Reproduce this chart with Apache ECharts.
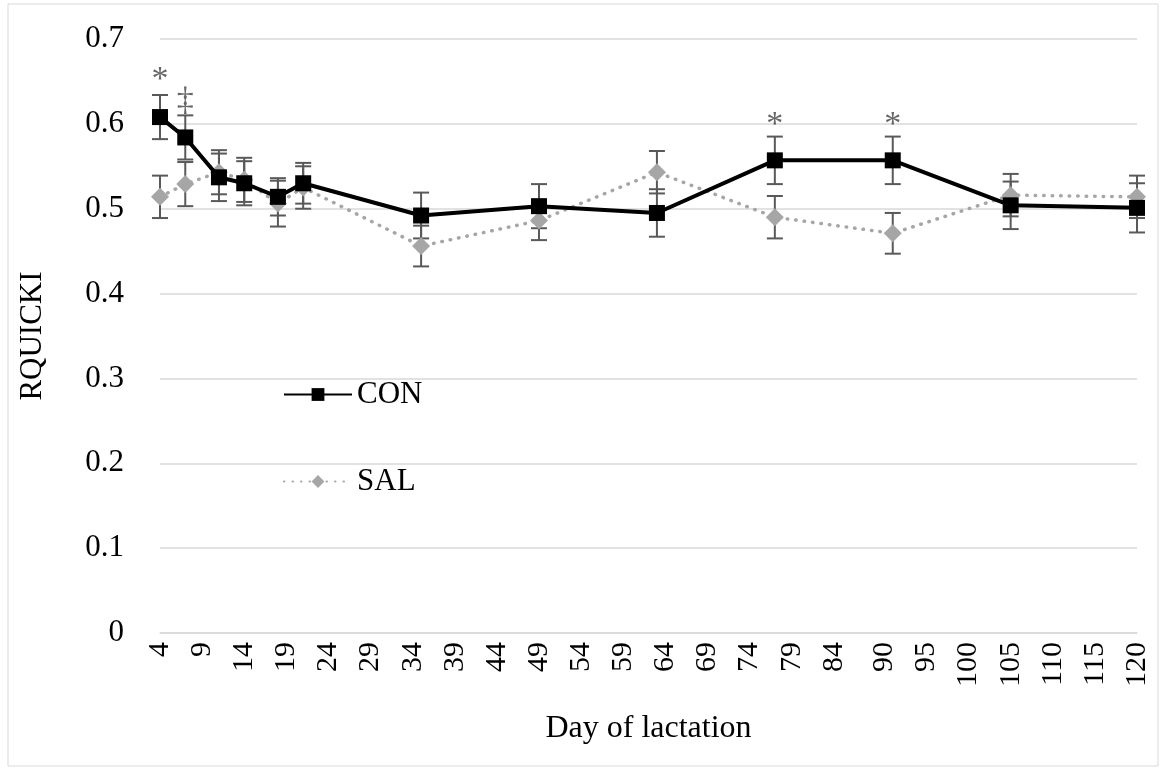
<!DOCTYPE html>
<html>
<head>
<meta charset="utf-8">
<script src="https://cdn.jsdelivr.net/npm/echarts@6/dist/echarts.min.js"></script>
<style>
  html, body { margin: 0; padding: 0; background: #fff; }
  #chart { width: 1161px; height: 773px; }
</style>
</head>
<body>
<div id="chart"></div>
<script>
// day of lactation for each sample
const days = [4, 7, 11, 14, 18, 21, 35, 49, 63, 77, 91, 105, 120]
const conValues = [0.608, 0.584, 0.537, 0.530, 0.514, 0.530, 0.492, 0.503, 0.495, 0.557, 0.557, 0.504, 0.501]
const conErr = [0.026, 0.026, 0.028, 0.026, 0.022, 0.024, 0.027, 0.026, 0.028, 0.028, 0.028, 0.028, 0.029]
const salValues = [0.514, 0.529, 0.543, 0.534, 0.506, 0.525, 0.456, 0.486, 0.543, 0.490, 0.471, 0.516, 0.514]
const salErr = [0.025, 0.026, 0.026, 0.026, 0.027, 0.025, 0.024, 0.023, 0.025, 0.025, 0.024, 0.025, 0.025]
const xTickLabels = [4, 9, 14, 19, 24, 29, 34, 39, 44, 49, 54, 59, 64, 69, 74, 79, 84, 90, 95, 100, 105, 110, 115, 120]
// significance marks: [day, y, text]
const marks = [[4, 0.652, '*'], [7, 0.627, '‡'], [77, 0.599, '*'], [91, 0.599, '*']]

const font = '"Liberation Serif", "Times New Roman", serif'

function errorSeries(name, values, errs) {
  return {
    name: name + '-err',
    type: 'custom',
    z: 1,
    silent: true,
    data: days.map((d, i) => [d, values[i] - errs[i], values[i] + errs[i]]),
    renderItem(params, api) {
      const lo = api.coord([api.value(0), api.value(1)])
      const hi = api.coord([api.value(0), api.value(2)])
      const cap = 8
      const style = { stroke: '#595959', lineWidth: 2 }
      return {
        type: 'group',
        children: [
          { type: 'line', shape: { x1: lo[0], y1: lo[1], x2: hi[0], y2: hi[1] }, style },
          { type: 'line', shape: { x1: lo[0] - cap, y1: lo[1], x2: lo[0] + cap, y2: lo[1] }, style },
          { type: 'line', shape: { x1: hi[0] - cap, y1: hi[1], x2: hi[0] + cap, y2: hi[1] }, style }
        ]
      }
    }
  }
}

const chart = echarts.init(document.getElementById('chart'))
chart.setOption({
  animation: false,
  textStyle: { fontFamily: font },
  grid: { left: 160, right: 24, top: 39, bottom: 140 },
  legend: {
    data: ['CON', 'SAL'],
    orient: 'vertical',
    left: 278,
    top: 374,
    itemWidth: 68,
    itemHeight: 16,
    itemGap: 56,
    textStyle: { fontFamily: font, fontSize: 31, color: '#000' }
  },
  xAxis: {
    type: 'value',
    min: 4,
    max: 120,
    name: 'Day of lactation',
    nameLocation: 'middle',
    nameGap: 80,
    nameTextStyle: { fontFamily: font, fontSize: 32, color: '#000' },
    splitLine: { show: false },
    axisLine: { show: true, lineStyle: { color: '#d9d9d9', width: 1.5 } },
    axisTick: { show: false },
    axisLabel: {
      customValues: xTickLabels,
      rotate: 90,
      margin: 9,
      fontFamily: font,
      fontSize: 30,
      color: '#000'
    }
  },
  yAxis: {
    type: 'value',
    min: 0,
    max: 0.7,
    interval: 0.1,
    name: 'RQUICKI',
    nameLocation: 'middle',
    nameGap: 112,
    nameTextStyle: { fontFamily: font, fontSize: 31, color: '#000' },
    axisLine: { show: false },
    axisTick: { show: false },
    splitLine: { lineStyle: { color: '#d9d9d9', width: 1.5 } },
    axisLabel: {
      margin: 36,
      fontFamily: font,
      fontSize: 31,
      color: '#000',
      formatter: v => (v === 0 ? '0' : v.toFixed(1))
    }
  },
  series: [
    errorSeries('SAL', salValues, salErr),
    errorSeries('CON', conValues, conErr),
    {
      name: 'SAL',
      type: 'line',
      z: 3,
      data: days.map((d, i) => [d, salValues[i]]),
      symbol: 'diamond',
      symbolSize: 18,
      itemStyle: { color: '#a6a6a6' },
      lineStyle: { color: '#a6a6a6', width: 3.5, type: [0.5, 8], cap: 'round' }
    },
    {
      name: 'CON',
      type: 'line',
      z: 4,
      data: days.map((d, i) => [d, conValues[i]]),
      symbol: 'rect',
      symbolSize: 16,
      itemStyle: { color: '#000' },
      lineStyle: { color: '#000', width: 4 }
    },
    {
      name: 'marks',
      type: 'scatter',
      symbolSize: 0,
      silent: true,
      data: marks.map(m => ({ value: [m[0], m[1]], label: { formatter: m[2] } })),
      label: {
        show: true,
        position: 'inside',
        fontFamily: font,
        fontSize: 34,
        color: '#404040'
      }
    }
  ],
  graphic: [{
    type: 'rect',
    shape: { x: 8, y: 4, width: 1150, height: 762 },
    style: { fill: 'none', stroke: '#d9d9d9', lineWidth: 1 },
    silent: true
  }]
})
</script>
</body>
</html>
